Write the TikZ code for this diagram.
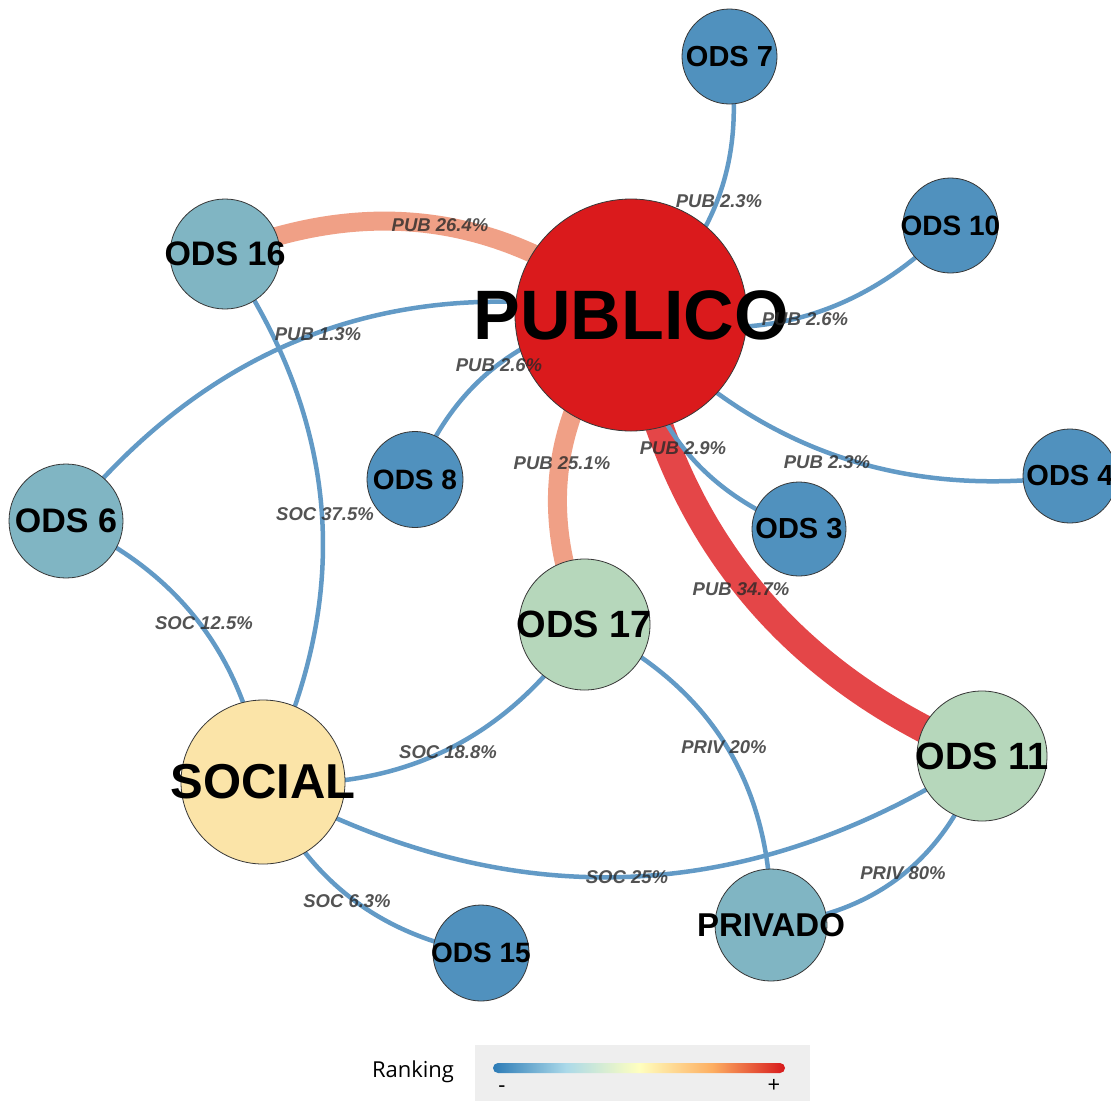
\documentclass[tikz,border=0pt]{standalone}
\usepackage{fontspec}
\setmainfont{Liberation Sans}
\newfontfamily\legendfont{Open Sans}
\usetikzlibrary{calc}

\definecolor{pubred}{RGB}{218,26,28}
\definecolor{odsblue}{RGB}{80,145,190}
\definecolor{odsteal}{RGB}{128,181,195}
\definecolor{odsgreen}{RGB}{182,215,187}
\definecolor{socyellow}{RGB}{251,228,168}
\definecolor{linkblue}{RGB}{98,154,198}
\definecolor{linksalmon}{RGB}{240,160,134}
\definecolor{linkred}{RGB}{228,70,72}
\definecolor{labgrey}{RGB}{40,40,40}
\definecolor{rimgrey}{RGB}{55,55,55}
\definecolor{legendbg}{RGB}{238,238,238}
\definecolor{rkA}{HTML}{2C7BB6}
\definecolor{rkB}{HTML}{ABD9E9}
\definecolor{rkC}{HTML}{FFFFBF}
\definecolor{rkD}{HTML}{FDAE61}
\definecolor{rkE}{HTML}{D7191C}

\pgfdeclarehorizontalshading{rankbar}{100bp}{color(0bp)=(rkA); color(25bp)=(rkA);
  color(37.5bp)=(rkB); color(50bp)=(rkC); color(62.5bp)=(rkD); color(75bp)=(rkE); color(100bp)=(rkE)}

\pgfdeclarelayer{paper}
\pgfdeclarelayer{links}
\pgfsetlayers{paper,links,main}

% node text that does not widen the circle
\newcommand\ntxt[1]{\makebox[0pt][c]{#1}}
% quadratic link between two node centres, #3 = control point
\newcommand\qlink[4][]{\draw[link,#1] (#2.center) .. controls ($(#2.center)!0.6667!(#3)$) and ($(#4.center)!0.6667!(#3)$) .. (#4.center);}

\tikzset{
  hub/.style={circle, draw=rimgrey, line width=0.8pt, inner sep=0pt, text=black},
  fs/.style={font=\bfseries\fontsize{#1}{#1}\selectfont},
  link/.style={line width=4.5pt, draw=linkblue},
  heavy/.style={line width=19pt, draw=linksalmon},
  heaviest/.style={line width=28pt, draw=linkred},
  lab/.style={inner sep=0pt, text=labgrey, text opacity=0.8,
    font=\bfseries\itshape\fontsize{18.5}{20}\selectfont},
}

\begin{document}
\begin{tikzpicture}[x=1pt,y=-1pt]
\useasboundingbox (0,0) rectangle (1111,1101);
\begin{pgfonlayer}{paper}
\fill[white] (0,0) rectangle (1111,1101);
\end{pgfonlayer}

% ---- nodes ----
\node[hub, fill=pubred, minimum size=232pt, fs=70] (pub) at (631,315) {\ntxt{PUBLICO}};
\node[hub, fill=odsblue, minimum size=95pt, fs=29] (o7) at (729.5,56.5) {\ntxt{ODS 7}};
\node[hub, fill=odsblue, minimum size=95pt, fs=28] (o10) at (950.5,225.5) {\ntxt{ODS 10}};
\node[hub, fill=odsteal, minimum size=110pt, fs=34] (o16) at (225,254) {\ntxt{ODS 16}};
\node[hub, fill=odsblue, minimum size=96pt, fs=28] (o8) at (415,479.5) {\ntxt{ODS 8}};
\node[hub, fill=odsteal, minimum size=114pt, fs=34] (o6) at (66,521) {\ntxt{ODS 6}};
\node[hub, fill=odsblue, minimum size=94pt, fs=29] (o3) at (799,529) {\ntxt{ODS 3}};
\node[hub, fill=odsblue, minimum size=94pt, fs=29] (o4) at (1070,476) {\ntxt{ODS 4}};
\node[hub, fill=odsgreen, minimum size=131pt, fs=38] (o17) at (584.5,624.5) {\ntxt{ODS 17}};
\node[hub, fill=odsgreen, minimum size=130pt, fs=38] (o11) at (982,756) {\ntxt{ODS 11}};
\node[hub, fill=socyellow, minimum size=164pt, fs=49] (soc) at (263,782) {\ntxt{SOCIAL}};
\node[hub, fill=odsteal, minimum size=112pt, fs=33] (priv) at (771,925) {\ntxt{PRIVADO}};
\node[hub, fill=odsblue, minimum size=96pt, fs=28] (o15) at (481,953) {\ntxt{ODS 15}};

% ---- links (behind the nodes) ----
\begin{pgfonlayer}{links}
\qlink[heavy]{pub}{446,165.5}{o16}
\qlink[heavy]{pub}{512.8,455.4}{o17}
\qlink[heaviest]{pub}{684.5,632.7}{o11}
\qlink{pub}{754.8,214.4}{o7}
\qlink{pub}{816.7,362.7}{o10}
\qlink{pub}{473.4,331.8}{o8}
\qlink{pub}{286.3,247.6}{o6}
\qlink{pub}{650.6,472.4}{o3}
\qlink{pub}{808.3,510.9}{o4}
\qlink{soc}{399.6,506.8}{o16}
\qlink{soc}{236.5,597.1}{o6}
\qlink{soc}{469.5,796.7}{o17}
\qlink{soc}{630.3,984.8}{o11}
\qlink{soc}{326.4,925.7}{o15}
\qlink{priv}{773.8,715.2}{o17}
\qlink{priv}{930.3,907.7}{o11}
\end{pgfonlayer}

% ---- link labels ----
\node[lab] (l1)  at (440,225) {PUB 26.4\%};
\node[lab] (l2)  at (719,201) {PUB 2.3\%};
\node[lab] (l3)  at (805,319) {PUB 2.6\%};
\node[lab] (l4)  at (318,334) {PUB 1.3\%};
\node[lab] (l5)  at (499,365) {PUB 2.6\%};
\node[lab] (l6)  at (562,463) {PUB 25.1\%};
\node[lab] (l7)  at (683,448) {PUB 2.9\%};
\node[lab] (l8)  at (827,462) {PUB 2.3\%};
\node[lab] (l9)  at (325,514) {SOC 37.5\%};
\node[lab] (l10) at (204,623) {SOC 12.5\%};
\node[lab] (l11) at (741,589) {PUB 34.7\%};
\node[lab] (l12) at (448,752) {SOC 18.8\%};
\node[lab] (l13) at (724,747) {PRIV 20\%};
\node[lab] (l14) at (627,877) {SOC 25\%};
\node[lab] (l15) at (903,873) {PRIV 80\%};
\node[lab] (l16) at (347,901) {SOC 6.3\%};

% ---- legend ----
\node[fill=legendbg, inner sep=0pt, minimum width=335pt, minimum height=56pt, anchor=north west] (legend) at (475,1045) {};
\shade[shading=rankbar, rounded corners=5pt] (493,1063) rectangle (785,1073);
\node[inner sep=0pt, font=\legendfont\fontsize{22}{24}\selectfont] (rank) at (413,1072) {Ranking};
\node[inner sep=0pt, font=\legendfont\fontsize{22}{24}\selectfont] (minus) at (502,1089) {-};
\node[inner sep=0pt, font=\legendfont\fontsize{22}{24}\selectfont] (plus) at (774,1086) {+};
\end{tikzpicture}
\end{document}
